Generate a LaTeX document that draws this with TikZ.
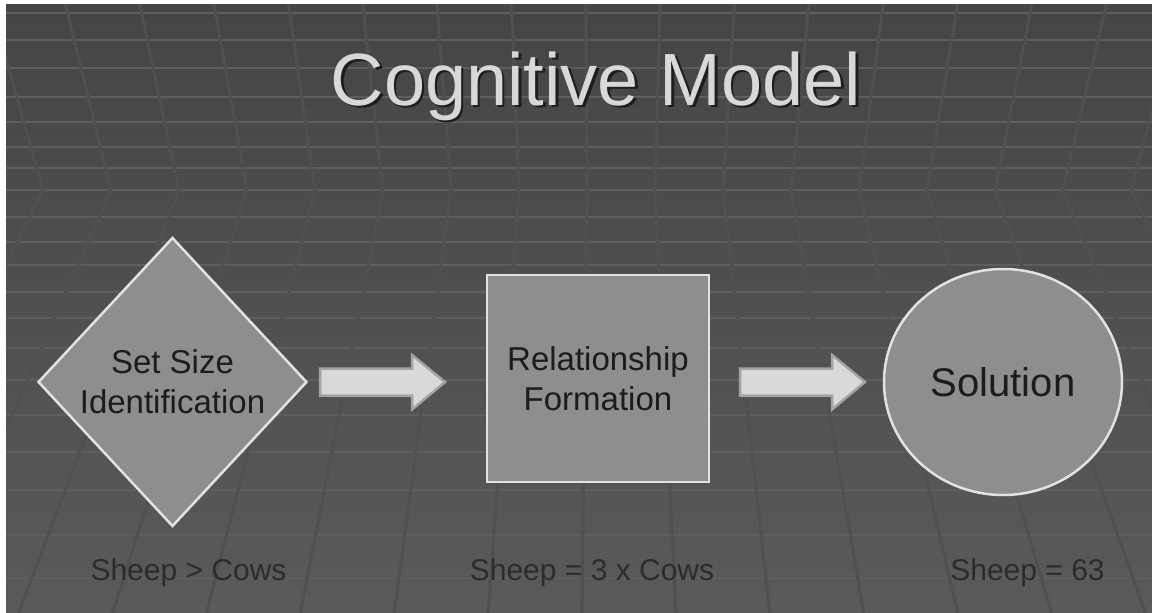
\documentclass[tikz,border=0pt]{standalone}
\usepackage{fontspec}
\setmainfont{Liberation Sans}
\usetikzlibrary{shapes.geometric}
\definecolor{bgtop}{HTML}{454545}
\definecolor{bgbot}{HTML}{5A5A5A}
\definecolor{hline}{HTML}{5E5E5E}
\definecolor{sline}{HTML}{505050}
\definecolor{shapefill}{HTML}{8E8E8E}
\definecolor{shapeedge}{HTML}{E2E2E2}
\definecolor{arrowfill}{HTML}{D9D9D9}
\definecolor{arrowedge}{HTML}{A3A3A3}
\definecolor{titlecol}{HTML}{D8D8D8}
\definecolor{titleshadowcol}{HTML}{1E1E1E}
\definecolor{inktext}{HTML}{1C1C1C}
\definecolor{subtext}{HTML}{2C2C2C}
\newcommand{\shadowtext}[1]{\rlap{\hspace{2.5pt}\raisebox{-2.5pt}{\textcolor{titleshadowcol}{#1}}}#1}
\tikzset{
  stageshape/.style={draw=shapeedge, line width=2.5pt, fill=shapefill, inner sep=0pt,
    text=inktext, align=center, font=\fontsize{33}{40}\selectfont},
  blockarrow/.style={draw=arrowedge, line width=2.5pt, fill=arrowfill, line join=miter},
  subtitle/.style={anchor=base, text=subtext, font=\fontsize{30}{36}\selectfont, inner sep=0pt},
  titletext/.style={anchor=base, text=titlecol, font=\fontsize{74}{80}\selectfont, inner sep=0pt}
}
\begin{document}
\begin{tikzpicture}[x=1pt, y=-1pt]
\useasboundingbox (0,0) rectangle (1152,613);
\fill[white] (0,0) rectangle (1152,613);
% background
\shade[top color=bgtop, bottom color=bgbot] (6,4) rectangle (1152,613);
\begin{scope}
\clip (6,4) rectangle (1152,613);
\foreach \yy in {13,40,68,97,122,147,168,190,217,242,265,292,318,348,380,415,452,490,535,578}
  \draw[hline, line width=2pt] (6,\yy) -- (1152,\yy);
\foreach \n in {-2,...,18} {
  \pgfmathsetmacro{\xo}{43+68*\n}
  \pgfmathsetmacro{\xt}{600+(\xo-600)*(1+0.0005*186)}
  \pgfmathsetmacro{\xb}{600+(\xo-600)*(1+0.0009*423)}
  \draw[sline, line width=3pt, line join=miter] (\xt,4) -- (\xo,190) -- (\xb,613);
}
\end{scope}
% title
\node[titletext] (title) at (596,105) {\shadowtext{Cognitive Model}};
% stages
\node[stageshape, diamond, minimum width=269pt, minimum height=289pt] (setsize) at (172.5,382) {Set Size\\Identification};
\node[stageshape, rectangle, minimum width=222pt, minimum height=207pt] (relation) at (598,378.5) {Relationship\\Formation};
\node[stageshape, ellipse, minimum width=238pt, minimum height=226pt, font=\fontsize{40}{48}\selectfont] (solution) at (1003,382) {Solution};
% block arrows
\coordinate (arrowA) at (320,382);
\coordinate (arrowB) at (740,382);
\foreach \c in {arrowA,arrowB}
  \draw[blockarrow] (\c) ++(0,-13.5) -- ++(92,0) -- ++(0,-13.5) -- ++(33,27) -- ++(-33,27.5) -- ++(0,-14) -- ++(-92,0) -- cycle;
% labels
\node[subtitle] (lab1) at (188.5,580) {Sheep > Cows};
\node[subtitle] (lab2) at (592,580) {Sheep = 3 x Cows};
\node[subtitle] (lab3) at (1027.5,580) {Sheep = 63};
\end{tikzpicture}
\end{document}
